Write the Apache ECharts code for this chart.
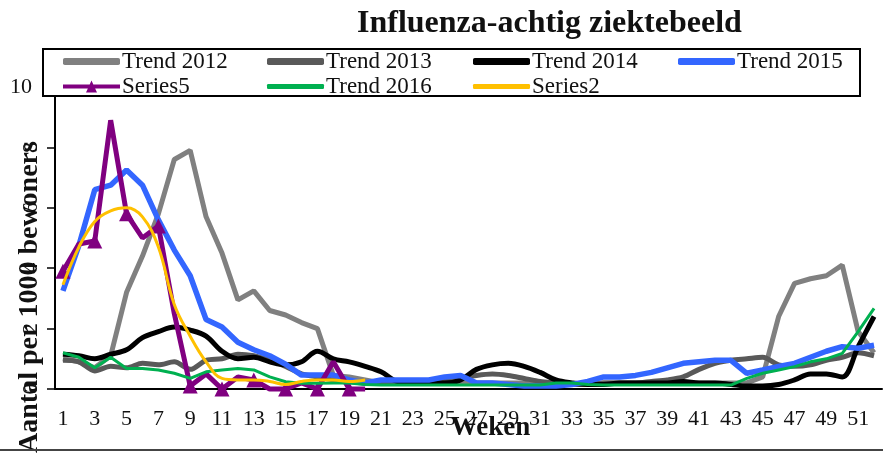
<!DOCTYPE html>
<html>
<head>
<meta charset="utf-8">
<script src="https://cdn.jsdelivr.net/npm/echarts@6/dist/echarts.min.js"></script>
<style>
html,body{margin:0;padding:0;background:#fff;}
#chart{width:883px;height:462px;}
</style>
</head>
<body>
<div id="chart"></div>
<script>
var weeks = [];
for (var i = 1; i <= 52; i++) weeks.push(String(i));

var trend2012 = [1.0,0.9,0.7,1.1,3.2,4.4,5.8,7.6,7.9,5.7,4.5,2.95,3.25,2.6,2.45,2.2,2.0,0.45,0.4,0.3,0.2,0.2,0.2,0.2,0.2,0.2,0.2,0.2,0.2,0.2,0.2,0.2,0.15,0.15,0.2,0.2,0.2,0.2,0.2,0.2,0.2,0.2,0.2,0.2,0.4,2.4,3.5,3.65,3.75,4.1,1.9,1.2];
var trend2013 = [0.95,0.9,0.6,0.75,0.7,0.85,0.8,0.9,0.65,0.95,1.0,1.15,1.1,0.95,0.75,0.5,0.4,0.3,0.25,0.2,0.2,0.2,0.2,0.2,0.25,0.35,0.45,0.5,0.45,0.35,0.25,0.2,0.15,0.15,0.2,0.2,0.2,0.25,0.3,0.4,0.65,0.85,0.95,1.0,1.05,0.8,0.75,0.8,0.95,1.05,1.2,1.1];
var trend2014 = [1.15,1.1,1.0,1.15,1.3,1.7,1.9,2.05,1.95,1.75,1.25,1.0,1.05,0.9,0.8,0.9,1.25,1.0,0.9,0.75,0.57,0.25,0.2,0.2,0.2,0.3,0.65,0.8,0.85,0.75,0.55,0.3,0.2,0.15,0.15,0.2,0.2,0.2,0.2,0.25,0.2,0.2,0.15,0.1,0.1,0.15,0.3,0.5,0.5,0.4,1.4,2.4];
var trend2015 = [3.25,4.75,6.6,6.75,7.25,6.75,5.6,4.6,3.75,2.3,2.05,1.55,1.3,1.1,0.82,0.46,0.46,0.46,0.3,0.2,0.3,0.3,0.3,0.3,0.4,0.45,0.2,0.2,0.15,0.1,0.1,0.1,0.15,0.25,0.4,0.4,0.45,0.55,0.7,0.85,0.9,0.95,0.95,0.52,0.63,0.75,0.85,1.05,1.25,1.4,1.35,1.45];
var series5 = [3.9,4.8,4.9,8.9,5.8,5.0,5.4,2.5,0.1,0.5,0,0.4,0.3,0,0,0.2,0,0.9,0,0,null,null,null,null,null,null,null,null,null,null,null,null,null,null,null,null,null,null,null,null,null,null,null,null,null,null,null,null,null,null,null,null];
var trend2016 = [1.2,1.05,0.7,1.05,0.68,0.68,0.63,0.52,0.35,0.57,0.63,0.68,0.63,0.4,0.24,0.19,0.19,0.2,0.2,0.15,0.13,0.13,0.13,0.13,0.13,0.13,0.13,0.13,0.13,0.13,0.13,0.2,0.2,0.15,0.13,0.13,0.13,0.13,0.13,0.13,0.13,0.13,0.13,0.35,0.52,0.63,0.74,0.9,1.0,1.18,1.9,2.67];
var series2 = [3.45,4.7,5.55,5.9,6.0,5.7,4.7,2.8,1.75,0.9,0.35,0.3,0.3,0.25,0.15,0.25,0.3,0.3,0.25,0.3,null,null,null,null,null,null,null,null,null,null,null,null,null,null,null,null,null,null,null,null,null,null,null,null,null,null,null,null,null,null,null,null];

var yTicks = [0, 2, 4, 6, 8, 10];
var titleText = 'Influenza-achtig ziektebeeld';
var xName = 'Weken';
var yName = 'Aantal per 1000 bewoners';

var names = ['Trend 2012','Trend 2013','Trend 2014','Trend 2015','Series5','Trend 2016','Series2'];
var colors = ['#808080','#595959','#000000','#3366FF','#800080','#00B050','#FFC000'];
var widths = [5,5,5,5.5,5,3,3];
var datas = [trend2012,trend2013,trend2014,trend2015,series5,trend2016,series2];
var smooths = [false,0.3,0.35,false,false,false,0.4];

var legendPos = [[63,50],[267,50],[473,50],[678,50],[63,75],[267,75],[473,75]];
var serif = '"Liberation Serif","DejaVu Serif",serif';

var chart = echarts.init(document.getElementById('chart'), null, {renderer:'canvas'});

var series = names.map(function(n, i){
  var s = {
    name: n, type: 'line', data: datas[i],
    lineStyle: {color: colors[i], width: widths[i]},
    itemStyle: {color: colors[i]},
    smooth: smooths[i],
    symbol: 'none',
    connectNulls: false,
    z: 2 + i
  };
  if (n === 'Series5') {
    s.symbol = 'triangle';
    s.symbolSize = 15;
    s.showSymbol = true;
    s.clip = false;
  }
  return s;
});

var legends = names.map(function(n, i){
  var isMarker = (n === 'Series5');
  var h = widths[i] + 1.5;
  return {
    data: [n], left: legendPos[i][0], top: legendPos[i][1],
    padding: 0,
    itemWidth: 57, itemHeight: isMarker ? 12 : Math.round(h),
    icon: isMarker ? 'path://M0,4L57,4L57,8L0,8Z M28.5,0L34,12L23,12Z' : 'roundRect',
    symbolKeepAspect: false,
    itemGap: 0,
    textStyle: {fontFamily: serif, fontSize: 23, color: '#111', padding: [0,0,0,-3]},
    z: 20
  };
});

chart.setOption({
  animation: false,
  backgroundColor: '#fff',
  title: {
    text: titleText, left: 357, top: 8, padding: 0,
    textStyle: {fontFamily: serif, fontWeight: 'bold', fontSize: 32, color: '#111'}
  },
  legend: legends,
  grid: {left: 55, right: 1, top: 87, bottom: 73, containLabel: false},
  xAxis: {
    type: 'category', data: weeks, boundaryGap: true,
    axisLine: {lineStyle: {color: '#000', width: 2}},
    axisTick: {interval: 0, length: 8, lineStyle: {color: '#000', width: 1.5}},
    axisLabel: {interval: 1, fontFamily: serif, fontSize: 22, color: '#111', margin: 19},
    name: xName, nameLocation: 'middle', nameGap: 26, nameMoveOverlap: false,
    nameTextStyle: {fontFamily: serif, fontWeight: 'bold', fontSize: 27, color: '#111', padding: [0,0,0,44]},
    splitLine: {show: false}
  },
  yAxis: {
    type: 'value', min: 0, max: 10, interval: 2,
    axisLine: {show: true, lineStyle: {color: '#000', width: 2}},
    axisTick: {show: true, length: 8, lineStyle: {color: '#000', width: 1.5}},
    axisLabel: {rotate: 90, fontFamily: serif, fontSize: 22, color: '#111', margin: 13,
      formatter: function(v){ return v === yTicks[yTicks.length-1] ? '' : String(v); }},
    nameMoveOverlap: false,
    splitLine: {show: false}
  },
  graphic: [
    {type: 'rect', z: 10, shape: {x: 43, y: 49, width: 817, height: 47},
     style: {fill: '#fff', stroke: '#000', lineWidth: 2}},
    {type: 'text', z: 11, x: 21, y: 87,
     style: {text: String(yTicks[yTicks.length-1]), font: '22px ' + serif, fill: '#111', textAlign: 'center', textVerticalAlign: 'middle'}},
    {type: 'text', z: 11, x: 30, y: 297, rotation: Math.PI/2,
     style: {text: yName, font: 'bold 28px ' + serif, fill: '#111', textAlign: 'center', textVerticalAlign: 'middle'}},
    {type: 'line', z: 11, shape: {x1: 0, y1: 450, x2: 883, y2: 450},
     style: {stroke: '#444', lineWidth: 2}}
  ],
  series: series
});
</script>
</body>
</html>
